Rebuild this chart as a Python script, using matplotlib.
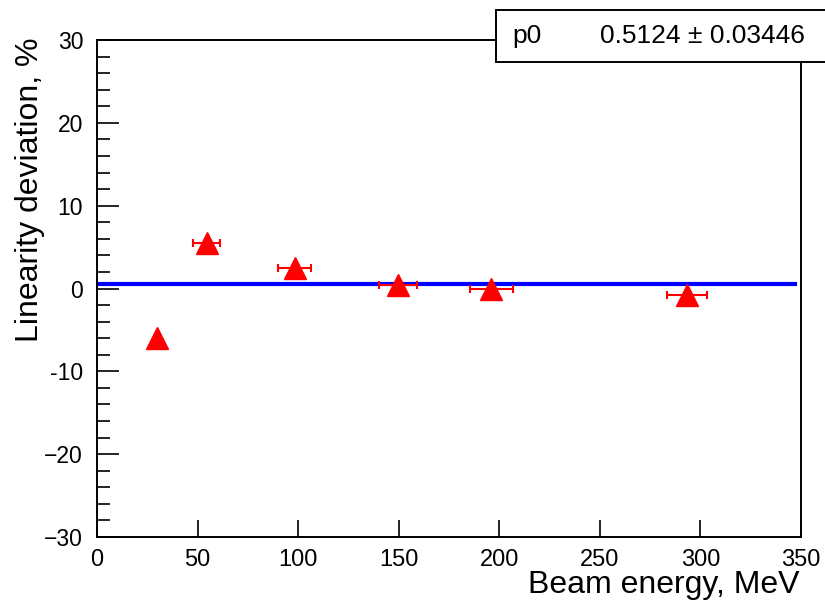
import matplotlib
matplotlib.use("Agg")
import matplotlib.pyplot as plt
from matplotlib.patches import Rectangle
import numpy as np

plt.rcParams['font.family'] = ['Liberation Sans', 'DejaVu Sans']

# Data
energy = [30.0, 54.5, 98.2, 149.7, 196.0, 293.4]
energy_err = [1.0, 6.7, 8.3, 9.4, 10.6, 9.9]
deviation = [-5.95, 5.54, 2.49, 0.48, -0.08, -0.77]
p0 = 0.5124
p0_err = 0.03446
fit_range = [0.0, 347.0]
xticks = [0, 50, 100, 150, 200, 250, 300, 350]
yticks = [-30, -20, -10, 0, 10, 20, 30]
yticklabels = ['\u221230', '\u221220', '-10', '0', '10', '20', '30']

W, H = 825, 601
fig = plt.figure(figsize=(W / 100, H / 100), dpi=100)
ax = fig.add_axes([97 / W, 1 - 537 / H, (801 - 97) / W, (537 - 40) / H])

ax.plot(fit_range, [p0, p0], color='#0000ff', lw=3.0, zorder=2)
ax.errorbar(energy, deviation, xerr=energy_err,
            fmt='^', color='#ff0000', ms=16.5, mec='#ff0000', mfc='#ff0000',
            elinewidth=1.5, capsize=3.2, capthick=1.5, zorder=3)

ax.set_xlim(0, 350)
ax.set_ylim(-30, 30)
ax.set_xticks(xticks)
ax.set_yticks(yticks)
ax.set_yticklabels(yticklabels)
ax.set_yticks(np.arange(-30, 31, 2), minor=True)
ax.tick_params(axis='x', which='major', direction='in', length=12, width=1.2,
               labelsize=17, pad=9, top=False)
ax.tick_params(axis='y', which='major', direction='in', length=16, width=1.2,
               labelsize=16.5, pad=10, right=False)
ax.tick_params(axis='y', which='minor', direction='in', length=9, width=1.2,
               right=False)
ax.tick_params(axis='x', which='minor', bottom=False)
for s in ax.spines.values():
    s.set_linewidth(1.4)

fig.text(800 / W, 1 - 593 / H, 'Beam energy, MeV', ha='right', va='baseline',
         fontsize=23)
fig.text(30 / W, 1 - 38 / H, 'Linearity deviation, %', ha='center', va='top',
         rotation=90, fontsize=23)

box = Rectangle((496 / W, 1 - 62 / H), 0.5, 52 / H, transform=fig.transFigure,
                facecolor='white', edgecolor='black', lw=1.4, zorder=5,
                clip_on=False)
fig.patches.append(box)
fig.text(512 / W, 1 - 36 / H, 'p0', ha='left', va='center', fontsize=19,
         zorder=6)
fig.text(600 / W, 1 - 36 / H, f'{p0:.4f} \u00b1 {p0_err:.5f}', ha='left',
         va='center', fontsize=19, zorder=6)

fig.savefig('out.png', dpi=100)
